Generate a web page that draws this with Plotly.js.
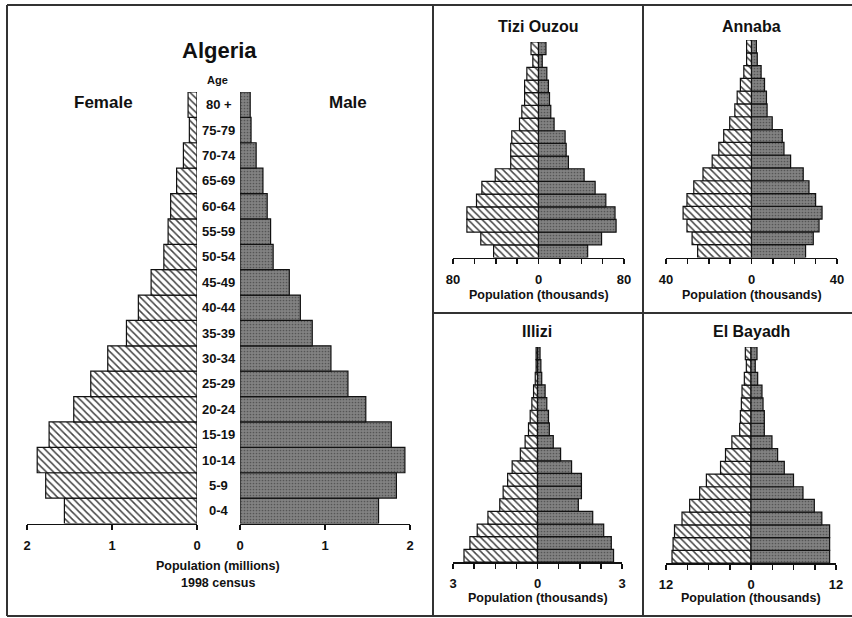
<!DOCTYPE html>
<html>
<head>
<meta charset="utf-8">
<script src="https://cdn.plot.ly/plotly-3.0.1.min.js"></script>
<style>html,body{margin:0;padding:0;background:#fff;}#chart{width:852px;height:618px;}</style>
</head>
<body>
<div id="chart"></div>
<script>
// ---------- DATA (age groups bottom to top) ----------
const ages = ['0-4','5-9','10-14','15-19','20-24','25-29','30-34','35-39','40-44','45-49','50-54','55-59','60-64','65-69','70-74','75-79','80+'];
const ageLabels = ['0-4','5-9','10-14','15-19','20-24','25-29','30-34','35-39','40-44','45-49','50-54','55-59','60-64','65-69','70-74','75-79','80 +'];

// Algeria, millions
const algeriaFemale = [1.56,1.78,1.88,1.74,1.45,1.25,1.05,0.83,0.69,0.54,0.39,0.34,0.31,0.24,0.16,0.09,0.105];
const algeriaMale   = [1.63,1.84,1.94,1.78,1.48,1.27,1.07,0.85,0.71,0.58,0.39,0.36,0.32,0.27,0.19,0.13,0.12];
const algeriaTicks  = [0,1,2];

// Provinces, thousands
const tiziFemale = [42,54,67,67,58,53,40.5,26,26,25,17.8,15.6,13,13,10.9,5.3,7];
const tiziMale   = [46,59,72.6,71.6,63,53,42.7,28,25.9,24.9,14.6,11.5,10.3,9.3,7.8,3.5,7];
const annabaFemale = [25.2,27.8,30.2,32,30.2,27,22.7,18.4,15.3,13,10.2,7.8,6.7,5.2,3.6,2.3,2.3];
const annabaMale   = [25.3,28.9,31.6,33,30,26.9,24.2,18.3,15.2,14.4,9.7,7.3,7,6.1,4.5,2.7,2.3];
const illiziFemale = [2.61,2.4,2.14,1.76,1.34,1.22,1.06,0.9,0.61,0.44,0.32,0.26,0.2,0.14,0.08,0.05,0.05];
const illiziMale   = [2.7,2.62,2.35,1.96,1.45,1.56,1.56,1.21,0.82,0.56,0.42,0.39,0.33,0.27,0.15,0.12,0.09];
const bayadhFemale = [11.15,11,10.8,9.74,8.66,7.25,6.3,4.3,3.6,2.7,1.6,1.5,1.36,1.27,0.94,0.66,0.8];
const bayadhMale   = [11.1,11.1,11.1,10,8.94,7.34,6,4.7,3.76,2.96,1.88,1.88,1.7,1.55,0.94,0.6,0.85];

const panels = [
  {name:'Tizi Ouzou', female:tiziFemale, male:tiziMale, max:80},
  {name:'Annaba', female:annabaFemale, male:annabaMale, max:40},
  {name:'Illizi', female:illiziFemale, male:illiziMale, max:3},
  {name:'El Bayadh', female:bayadhFemale, male:bayadhMale, max:12}
];

// ---------- helpers ----------
const W = 852, H = 618;
const X = px => px / W;
const Y = py => 1 - py / H;
const FONT = 'Liberation Sans, Arial, sans-serif';
const INK = '#111';

const femaleMarker = (size) => ({
  color: 'white',
  line: {color: INK, width: 1.2},
  pattern: {shape: '\\', fgcolor: '#444', bgcolor: 'white', size: size, solidity: 0.3}
});
const maleMarker = () => ({
  color: '#7a7a7a',
  line: {color: INK, width: 1.2},
  pattern: {shape: '.', fgcolor: '#555', bgcolor: '#828282', size: 3, solidity: 0.25}
});

const traces = [];
traces.push({type:'bar', orientation:'h', y:ages, x:algeriaFemale, xaxis:'x', yaxis:'y',
  marker:femaleMarker(5), hoverinfo:'skip', width:1});
traces.push({type:'bar', orientation:'h', y:ages, x:algeriaMale, xaxis:'x2', yaxis:'y',
  marker:maleMarker(), hoverinfo:'skip', width:1});

panels.forEach((p, i) => {
  const xa = 'x' + (i + 3), ya = 'y' + (i + 2);
  traces.push({type:'bar', orientation:'h', y:ages, x:p.female.map(v => -v), xaxis:xa, yaxis:ya,
    marker:femaleMarker(5), hoverinfo:'skip', width:1});
  traces.push({type:'bar', orientation:'h', y:ages, x:p.male, xaxis:xa, yaxis:ya,
    marker:maleMarker(), hoverinfo:'skip', width:1});
});

const tickFont = {family: FONT, size: 13, color: INK, weight: 'bold'};
const xBase = {
  showgrid:false, zeroline:false, showline:true, linecolor:INK, linewidth:1.5,
  ticks:'outside', ticklen:5, tickwidth:1.5, tickcolor:INK, tickfont:tickFont,
  ticklabelstandoff:4, fixedrange:true
};
const yBase = {type:'category', visible:false, range:[-0.5, ages.length - 0.5], fixedrange:true,
  categoryorder:'array', categoryarray:ages};

const layout = {
  width: W, height: H,
  margin: {l:0, r:0, t:0, b:0},
  paper_bgcolor: 'white', plot_bgcolor: 'rgba(0,0,0,0)',
  showlegend: false, barmode: 'overlay', bargap: 0,
  xaxis:  Object.assign({}, xBase, {domain:[X(27), X(197)], range:[2, 0], anchor:'y',
           tickvals:algeriaTicks, ticktext:algeriaTicks.map(String)}),
  xaxis2: Object.assign({}, xBase, {domain:[X(240), X(410)], range:[0, 2], anchor:'y',
           tickvals:algeriaTicks, ticktext:algeriaTicks.map(String)}),
  yaxis:  Object.assign({}, yBase, {domain:[Y(523.5), Y(92)], anchor:'x'}),
  annotations: [], shapes: []
};

const panelBoxes = [
  {x0:453, x1:624, yb:257.5, yt:42,  title:[538, 27],  tl:295},
  {x0:666, x1:837, yb:257.5, yt:40,  title:[751, 27],  tl:295},
  {x0:453, x1:622, yb:562,   yt:347, title:[537, 332], tl:598},
  {x0:666, x1:836, yb:563,   yt:347, title:[751, 332], tl:598}
];

const txt = (x, y, text, size, extra) => Object.assign({xref:'paper', yref:'paper', x:X(x), y:Y(y),
  text:text, showarrow:false, xanchor:'center', yanchor:'middle',
  font:{family:FONT, size:size, color:INK, weight:'bold'}}, extra || {});

panels.forEach((p, i) => {
  const b = panelBoxes[i];
  const m = p.max;
  const tv = [-m, -0.75*m, -0.5*m, -0.25*m, 0, 0.25*m, 0.5*m, 0.75*m, m];
  const tt = [String(m), '', '', '', '0', '', '', '', String(m)];
  layout['xaxis' + (i + 3)] = Object.assign({}, xBase, {domain:[X(b.x0), X(b.x1)], range:[-m, m],
     anchor:'y' + (i + 2), tickvals:tv, ticktext:tt});
  layout['yaxis' + (i + 2)] = Object.assign({}, yBase, {domain:[Y(b.yb), Y(b.yt)], anchor:'x' + (i + 3)});
  layout.annotations.push(txt(b.title[0], b.title[1], p.name, 16));
  layout.annotations.push(txt((b.x0 + b.x1) / 2, b.tl, 'Population (thousands)', 12.5));
});

// Main chart texts
const ann = layout.annotations;
ann.push(txt(219, 51, 'Algeria', 22));
ann.push(txt(218, 80, 'Age', 11));
ann.push(txt(103, 103, 'Female', 17));
ann.push(txt(348, 103, 'Male', 17));
ann.push(txt(218, 566, 'Population (millions)', 12.5));
ann.push(txt(218, 583, '1998 census', 12.5));
ages.forEach((a, i) => {
  ann.push({xref:'paper', yref:'y', x:X(218.5), y:i, text:ageLabels[i], showarrow:false,
    xanchor:'center', yanchor:'middle',
    font:{family:FONT, size:13, color:INK, weight:'bold'}});
});

// Frame lines
const frame = [
  [7,5,852,5],[7,5,7,616],[7,616,852,616],
  [433,5,433,616],[643,5,643,616],[433,313,852,313]
];
frame.forEach(f => layout.shapes.push({type:'line', xref:'paper', yref:'paper',
  x0:X(f[0]), y0:Y(f[1]), x1:X(f[2]), y1:Y(f[3]), line:{color:'#333', width:2}}));

Plotly.newPlot('chart', traces, layout, {staticPlot:true, displayModeBar:false});
</script>
</body>
</html>
